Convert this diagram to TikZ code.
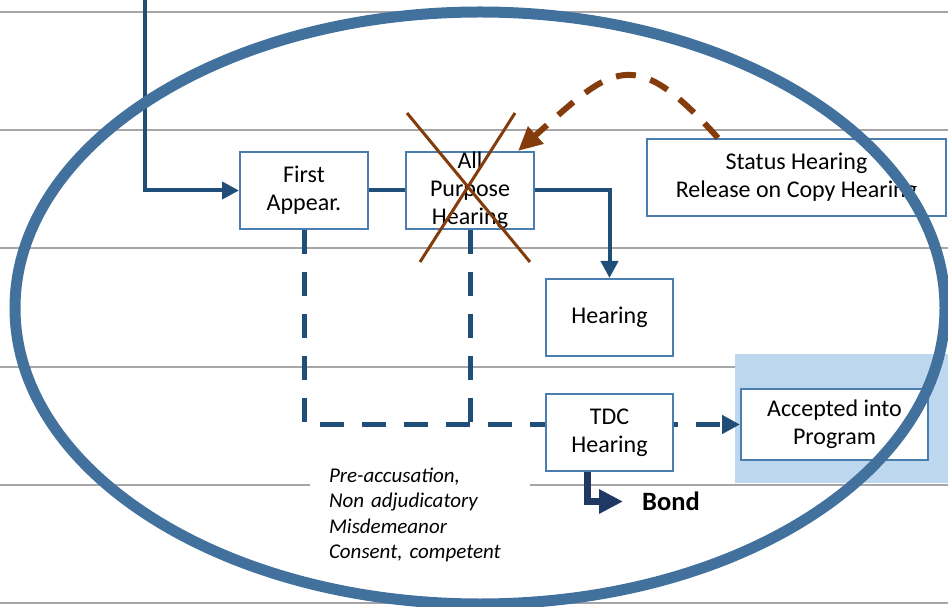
\documentclass[tikz,border=0pt]{standalone}
\usepackage{fontspec}
\setmainfont{Carlito}
\usepackage{tikz}
\usetikzlibrary{arrows.meta}
\usetikzlibrary{calc,positioning}
\definecolor{ringblue}{HTML}{41719C}
\definecolor{boxblue}{HTML}{4A7DB0}
\definecolor{flowblue}{HTML}{1F4E79}
\definecolor{bondblue}{HTML}{203864}
\definecolor{crossbrown}{HTML}{843C0C}
\definecolor{progblue}{HTML}{BDD7EE}
\definecolor{rulegray}{HTML}{A6A6A6}

\begin{document}
\begin{tikzpicture}[x=1pt, y=1pt,
		stage/.style = {draw=boxblue, line width=2pt, fill=white, align=center, inner sep=0pt,
				minimum width=128pt, minimum height=77pt, font=\fontsize{24}{28}\selectfont},
		flow/.style = {draw=flowblue, line width=4pt},
		tip/.style = {-{Triangle[length=17pt,width=17pt]}},
		skip/.style = {draw=flowblue, line width=5pt, dash pattern=on 24pt off 18pt},
		bondflow/.style = {draw=bondblue, line width=7pt, -{Triangle[length=24pt,width=23pt]}},
		ring/.style = {draw=ringblue, line width=11pt},
		cross/.style = {draw=crossbrown, line width=3pt},
		back/.style = {draw=crossbrown, line width=6pt, dash pattern=on 20pt off 15pt,
				-{Triangle[length=24pt,width=22pt]}},
		rule/.style = {draw=rulegray, line width=2pt},
		notes/.style = {fill=white, text width=182pt, inner xsep=19pt, inner ysep=2pt, align=left,
				font=\itshape\fontsize{21}{25.5}\selectfont}]
	\useasboundingbox (0,0) rectangle (948,606);
	% ruled background
	\foreach \yy in {594,476,358,239,121,3}
	\draw[rule] (0,\yy) -- (948,\yy);
	\fill[progblue] (735,123) rectangle (948,252);

	\node [stage] (first) at (304,415.5) {First\\Appear.};
	\node [stage, right=36pt of first, label={[align=center, font=\fontsize{24}{28}\selectfont]center:All\\Purpose\\Hearing}] (allp) {};
	\node [stage, minimum width=127pt] (hear) at (609.5,288.5) {Hearing};
	\node [stage, minimum width=127pt, below=36pt of hear] (tdc) {TDC\\Hearing};
	\node [stage, minimum width=187pt, minimum height=71pt] (acc) at (834.5,181.5) {Accepted into\\Program};
	\node [stage, minimum width=299pt] (status) at (796.5,428.5) {Status Hearing\\Release on Copy Hearing};
	\node [notes] (crit) at (420,91) {Pre-accusation,\\Non adjudicatory\\Misdemeanor\\Consent, competent};
	\node [anchor=west, inner xsep=19pt, inner ysep=0pt, font=\bfseries\fontsize{26.5}{30}\selectfont] (bond) at (623,104.5) {Bond};

	% connectors
	\coordinate (entry) at (145,606);
	\draw[flow, tip] (entry) |- (first.west);
	\draw[flow] (first.east) -- (allp.west);
	\draw[flow, tip] (allp.east) -| (hear.north);
	\draw[skip] (first.south) |- (tdc.west |- acc.west);
	\draw[skip] (allp.south) -- (allp.south |- acc.west);
	\draw[skip, dash phase=20pt, -{Triangle[length=18pt,width=18pt]}] (tdc.east |- acc.west) -- (acc.west);
	\draw[bondflow] ([xshift=-22.5pt]tdc.south) |- (bond.west);
	\draw[back] ([xshift=-78.5pt]status.north) .. controls +(-85,95) and +(95,85) .. ([xshift=-17pt]allp.north east);

	% crossed out
	\draw[cross] ([shift={(-63,77.5)}]allp.center) -- ([shift={(60,-71.5)}]allp.center);
	\draw[cross] ([shift={(45,77.5)}]allp.center) -- ([shift={(-50,-71.5)}]allp.center);

	\draw[ring] (480,298) ellipse [x radius=465, y radius=296];
\end{tikzpicture}
\end{document}
